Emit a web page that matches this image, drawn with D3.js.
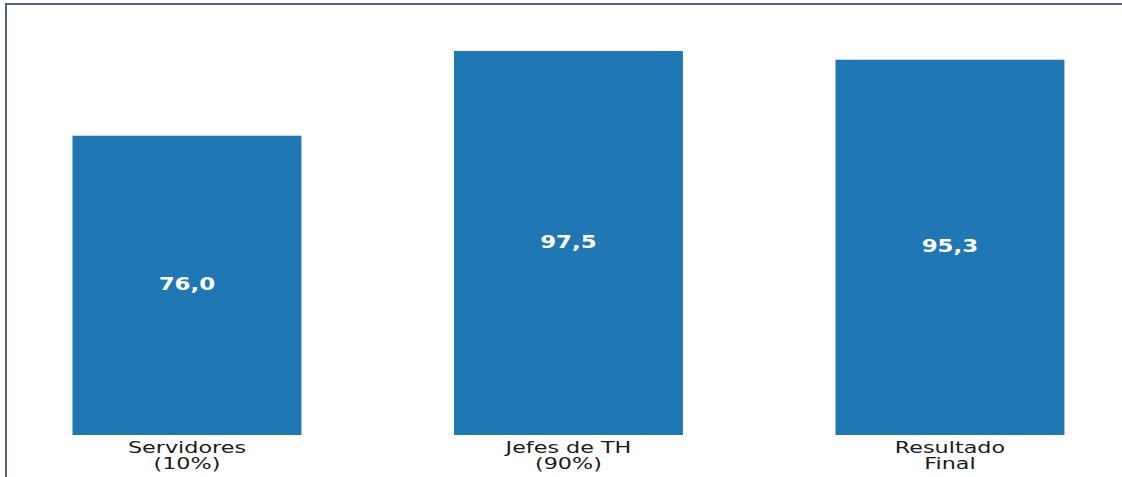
<!DOCTYPE html>
<html>
<head>
<meta charset="utf-8">
<script src="https://cdn.jsdelivr.net/npm/d3@7/dist/d3.min.js"></script>
<style>
  html, body { margin: 0; padding: 0; background: #fff; }
  svg { display: block; }
</style>
</head>
<body>
<svg id="chart" width="1122" height="477"></svg>
<script>
// Category labels (two lines each) and their scores
const categories = ["Servidores\n(10%)", "Jefes de TH\n(90%)", "Resultado\nFinal"];
const values = [76.0, 97.5, 95.3];
const valueLabels = ["76,0", "97,5", "95,3"];

const W = 1122, H = 477;
const svg = d3.select("#chart");

// Outer frame (runs off the right and bottom edges)
svg.append("rect")
  .attr("x", 6).attr("y", 4)
  .attr("width", W + 20).attr("height", H + 20)
  .attr("fill", "none")
  .attr("stroke", "#56647a")
  .attr("stroke-width", 2);

const x = d3.scaleBand()
  .domain(categories)
  .range([-3.8, 1140.7])
  .paddingInner(0.4)
  .paddingOuter(0.2);

const y = d3.scaleLinear()
  .domain([0, 100])
  .range([435, 41.2]);

const stretch = 1.35;

const g = svg.append("g");

g.selectAll("rect.bar")
  .data(values)
  .join("rect")
  .attr("class", "bar")
  .attr("x", (d, i) => x(categories[i]))
  .attr("y", d => y(d))
  .attr("width", x.bandwidth())
  .attr("height", d => y(0) - y(d))
  .attr("fill", "#1f77b4");

// Value labels centred inside each bar
g.selectAll("text.val")
  .data(values)
  .join("text")
  .attr("class", "val")
  .attr("transform", (d, i) => {
    const cx = x(categories[i]) + x.bandwidth() / 2;
    const cy = (y(d) + y(0)) / 2 - 1;
    return `translate(${cx},${cy}) scale(${stretch},1)`;
  })
  .attr("text-anchor", "middle")
  .attr("dominant-baseline", "central")
  .attr("font-family", "DejaVu Sans, sans-serif")
  .attr("font-weight", "bold")
  .attr("font-size", 17)
  .attr("fill", "#ffffff")
  .text((d, i) => valueLabels[i]);

// Category tick labels below the bars
const ticks = g.selectAll("g.tick")
  .data(categories)
  .join("g")
  .attr("class", "tick")
  .attr("transform", d => `translate(${x(d) + x.bandwidth() / 2},0)`);

ticks.each(function(d) {
  const lines = d.split("\n");
  const t = d3.select(this).append("text")
    .attr("text-anchor", "middle")
    .attr("font-family", "DejaVu Sans, sans-serif")
    .attr("font-size", 16.5)
    .attr("fill", "#1a1a1a")
    .attr("transform", `scale(${stretch},1)`);
  lines.forEach((ln, k) => {
    t.append("tspan")
      .attr("x", 0)
      .attr("y", 453 + k * 16)
      .text(ln);
  });
});
</script>
</body>
</html>
